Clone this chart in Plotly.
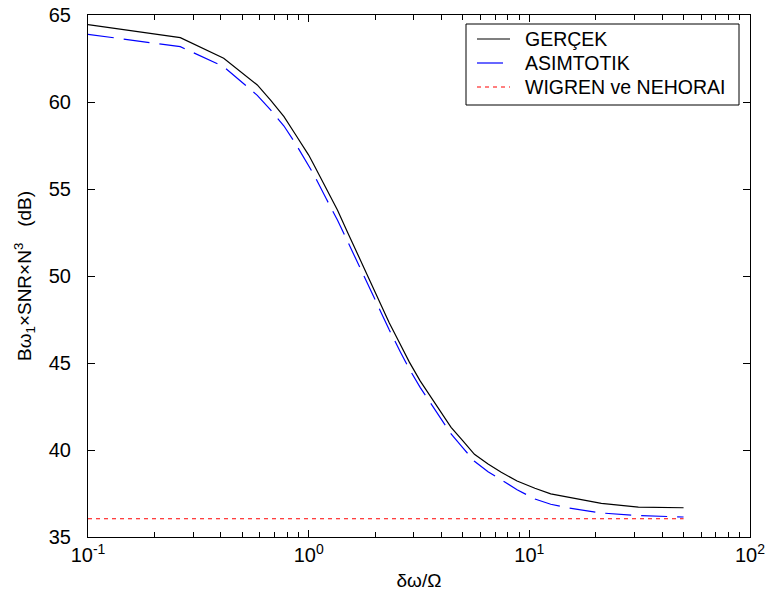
import plotly.graph_objects as go

# Data
delta_ratio = [0.1, 0.262, 0.412, 0.585, 0.672, 0.773, 0.873, 1.0, 1.057, 1.2, 1.35, 1.5, 1.66, 1.84,
               2.02, 2.32, 2.6, 2.86, 3.2, 3.59, 4.0, 4.42, 5.0, 5.64, 6.5, 7.46, 8.8, 10.6, 12.5,
               15.0, 21.2, 31.2, 50.0]
y_gercek = [64.45, 63.70, 62.51, 60.98, 60.11, 59.16, 58.12, 56.95, 56.38, 55.04, 53.79, 52.52, 51.30, 50.07,
            48.95, 47.30, 46.08, 45.05, 43.97, 43.00, 42.12, 41.30, 40.52, 39.75, 39.20, 38.72, 38.22, 37.80, 37.48,
            37.28, 36.93, 36.72, 36.68]
y_asim = [63.89, 63.18, 62.03, 60.38, 59.55, 58.62, 57.60, 56.35, 55.82, 54.45, 53.22, 52.00, 50.80, 49.60,
          48.50, 46.90, 45.65, 44.65, 43.60, 42.62, 41.75, 40.92, 40.12, 39.35, 38.75, 38.30, 37.72, 37.18, 36.88,
          36.67, 36.38, 36.23, 36.15]

x_wigren = [0.1, 50.0]
y_wigren = [36.05, 36.05]

series_names = ["GERÇEK", "ASIMTOTIK", "WIGREN ve NEHORAI"]
series_colors = ["black", "#0000ff", "#ff0000"]
series_dash = ["solid", "26px,10px", "4px,4px"]

x_tickvals = [0.1, 1, 10, 100]
x_ticktext = ["10<sup>-1</sup>", "10<sup>0</sup>", "10<sup>1</sup>", "10<sup>2</sup>"]
x_minor = [m * d for d in [0.1, 1, 10] for m in range(2, 10)]
y_tickvals = [35, 40, 45, 50, 55, 60, 65]

FONT = "Arial, Liberation Sans, sans-serif"

fig = go.Figure()
fig.add_trace(go.Scatter(x=delta_ratio, y=y_gercek, mode="lines", name=series_names[0],
                         line=dict(color=series_colors[0], width=1.2, dash=series_dash[0])))
fig.add_trace(go.Scatter(x=delta_ratio, y=y_asim, mode="lines", name=series_names[1],
                         line=dict(color=series_colors[1], width=1.2, dash=series_dash[1])))
fig.add_trace(go.Scatter(x=x_wigren, y=y_wigren, mode="lines", name=series_names[2],
                         line=dict(color=series_colors[2], width=1.2, dash=series_dash[2])))

axis_common = dict(showgrid=False, zeroline=False, showline=True, linecolor="black", linewidth=1,
                   mirror="ticks", ticks="inside", ticklen=7, tickcolor="black", tickwidth=1,
                   automargin=False,
                   tickfont=dict(family=FONT, size=20, color="black"))

fig.update_xaxes(type="log", range=[-1, 2], tickmode="array", tickvals=x_tickvals, ticktext=x_ticktext,
                 minor=dict(tickvals=x_minor, ticks="inside", ticklen=5, tickcolor="black", tickwidth=1),
                 title=dict(text="δω/Ω", font=dict(family=FONT, size=19, color="black"), standoff=8),
                 **axis_common)
fig.update_yaxes(range=[35, 65], tickmode="array", tickvals=y_tickvals,
                 title=dict(text="Bω<sub>1</sub>×SNR×N<sup>3</sup>   (dB)",
                            font=dict(family=FONT, size=19, color="black"), standoff=12),
                 ticklabelstandoff=12,
                 **axis_common)

# Legend box drawn in paper coordinates (MATLAB-style legend)
L, T, W, H = 88, 15, 662, 522


def px(xp):
    return (xp - L) / W


def py(yp):
    return (T + H - yp) / H


shapes = [dict(type="rect", xref="paper", yref="paper", x0=px(466), x1=px(739), y0=py(105), y1=py(24),
               line=dict(color="black", width=1), fillcolor="white", layer="above")]
annotations = []
row_y = [39, 63, 87]
for name, col, dsh, ry in zip(series_names, series_colors, series_dash, row_y):
    shapes.append(dict(type="line", xref="paper", yref="paper", x0=px(477), x1=px(510), y0=py(ry), y1=py(ry),
                       line=dict(color=col, width=1.2, dash=dsh), layer="above"))
    annotations.append(dict(xref="paper", yref="paper", x=px(523), y=py(ry), text=name, showarrow=False,
                            xanchor="left", yanchor="middle",
                            font=dict(family=FONT, size=19.5, color="black")))

fig.update_layout(
    width=768, height=605,
    margin=dict(l=L, r=768 - L - W, t=T, b=605 - T - H, autoexpand=False),
    paper_bgcolor="white", plot_bgcolor="white",
    font=dict(family=FONT, size=19, color="black"),
    showlegend=False,
    shapes=shapes,
    annotations=annotations,
)

fig.write_html("out.html")
